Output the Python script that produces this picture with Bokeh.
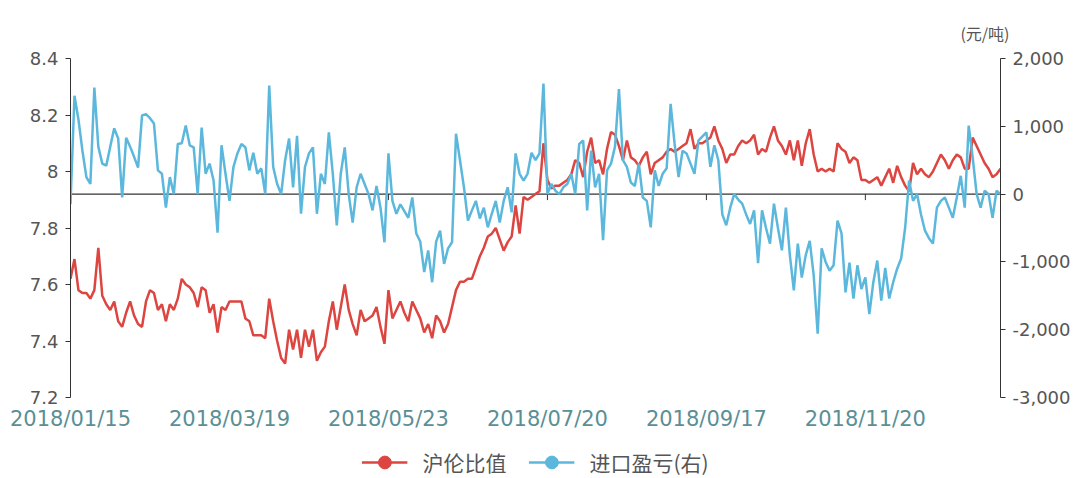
from bokeh.plotting import figure
from bokeh.layouts import column
from bokeh.models import (Range1d, LinearAxis, FixedTicker, Span, Legend, LegendItem,
                          Title, ColumnDataSource)
from bokeh.embed import file_html
from bokeh.resources import INLINE

# ---------------- data ----------------
ratio = [
    7.62, 7.69, 7.58, 7.57, 7.57, 7.55, 7.58, 7.73, 7.56, 7.53,
    7.51, 7.54, 7.47, 7.45, 7.50, 7.54, 7.49, 7.46, 7.45, 7.54,
    7.58, 7.57, 7.51, 7.53, 7.47, 7.53, 7.51, 7.55, 7.62, 7.60,
    7.59, 7.57, 7.52, 7.59, 7.58, 7.50, 7.53, 7.43, 7.52, 7.51,
    7.54, 7.54, 7.54, 7.54, 7.48, 7.47, 7.42, 7.42, 7.42, 7.41,
    7.55, 7.47, 7.40, 7.34, 7.32, 7.44, 7.37, 7.44, 7.34, 7.44,
    7.38, 7.44, 7.33, 7.36, 7.38, 7.47, 7.54, 7.44, 7.52, 7.60,
    7.51, 7.46, 7.42, 7.51, 7.47, 7.48, 7.49, 7.52, 7.45, 7.39,
    7.58, 7.48, 7.51, 7.54, 7.50, 7.47, 7.54, 7.51, 7.48, 7.43,
    7.46, 7.41, 7.49, 7.47, 7.43, 7.46, 7.52, 7.58, 7.61, 7.61,
    7.62, 7.62, 7.66, 7.70, 7.73, 7.77, 7.78, 7.80, 7.76, 7.72,
    7.75, 7.77, 7.88, 7.78, 7.91, 7.90, 7.91, 7.92, 7.93, 8.10,
    7.97, 7.94, 7.95, 7.95, 7.96, 7.97, 7.99, 8.04, 8.03, 7.98,
    8.07, 8.12, 8.03, 8.04, 7.99, 8.08, 8.14, 8.13, 8.09, 8.04,
    8.11, 8.05, 8.04, 8.02, 8.05, 8.07, 7.99, 8.03, 8.04, 8.05,
    8.07, 8.08, 8.07, 8.08, 8.09, 8.10, 8.15, 8.08, 8.10, 8.10,
    8.11, 8.12, 8.16, 8.11, 8.08, 8.03, 8.06, 8.06, 8.09, 8.11,
    8.10, 8.11, 8.13, 8.06, 8.08, 8.07, 8.12, 8.16, 8.11, 8.09,
    8.06, 8.11, 8.04, 8.11, 8.02, 8.10, 8.15, 8.06, 8.00, 8.01,
    8.00, 8.01, 8.00, 8.10, 8.08, 8.07, 8.03, 8.05, 8.04, 7.97,
    7.97, 7.96, 7.97, 7.98, 7.95, 7.98, 8.01, 7.96, 8.02, 7.98,
    7.95, 7.93, 8.03, 7.99, 8.01, 7.99, 7.98, 8.00, 8.03, 8.06,
    8.04, 8.01, 8.04, 8.06, 8.05, 8.01, 8.01, 8.12, 8.09, 8.06,
    8.03, 8.01, 7.98, 7.99, 8.01,
]

profit = [
    -150, 1450, 1100, 640, 250, 150, 1570, 700, 450, 420,
    700, 970, 820, -50, 830, 700, 550, 390, 1160, 1180,
    1120, 1040, 350, 300, -200, 250, 0, 740, 750, 1010,
    720, 690, 0, 980, 300, 450, 200, -570, 720, 300,
    -100, 400, 600, 740, 690, 350, 610, 300, 380, 0,
    1600, 400, 150, 0, 500, 820, 100, 860, -290, 400,
    600, 690, -290, 300, 150, 910, 300, -460, 300, 690,
    0, -420, 100, 300, 150, 0, -240, 120, -200, -710,
    600, -100, -290, -150, -250, -350, -50, -580, -700, -1150,
    -830, -1300, -700, -540, -1030, -800, -710, 890, 500, 100,
    -390, -240, -100, -360, -200, -490, -290, -100, -420, -100,
    100, -270, 600, 300, 200, 300, 610, 500, 600, 1630,
    0, 150, 50, 0, 100, 150, 300, 0, 740, 790,
    -240, 640, 100, 300, -680, 350, 450, 700, 1550, 500,
    400, 170, 120, 450, -50, -100, -490, 350, 120, 300,
    380, 1330, 740, 250, 640, 600, 450, 300, 790, 850,
    910, 400, 720, 500, -300, -460, -200, 0, -80, -140,
    -300, -440, -240, -1020, -240, -500, -730, -140, -500, -830,
    -200, -900, -1420, -730, -1230, -900, -690, -1200, -2060, -800,
    -1000, -1130, -1050, -390, -580, -1450, -1010, -1540, -1050, -1400,
    -1230, -1770, -1300, -980, -1570, -1090, -1540, -1300, -1100, -950,
    -500, 200, -100, 0, -300, -540, -650, -730, -200, -100,
    -50, -200, -350, -50, 270, -200, 1010, 540, 0, -200,
    50, 0, -350, 50, 0,
]

x_tick_index = [0, 40, 80, 120, 160, 200]
x_tick_labels = ["2018/01/15", "2018/03/19", "2018/05/23",
                 "2018/07/20", "2018/09/17", "2018/11/20"]
left_ticks = [7.2, 7.4, 7.6, 7.8, 8.0, 8.2, 8.4]
left_tick_labels = ["7.2", "7.4", "7.6", "7.8", "8", "8.2", "8.4"]
right_ticks = [-3000, -2000, -1000, 0, 1000, 2000]
right_tick_labels = ["-3,000", "-2,000", "-1,000", "0", "1,000", "2,000"]
series_names = ["沪伦比值", "进口盈亏(右)"]
unit_label = "(元/吨)"

# ---------------- style ----------------
RED = "#dc4540"
BLUE = "#5bb8dc"
AXIS = "#333333"
TEXT = "#555555"
XTEXT = "#5a8f96"
NUM_FONT = "DejaVu Sans"
CJK_FONT = "Noto Sans CJK SC"
W = 1085
MAIN_H = 440
LEG_H = 38

n = min(len(ratio), len(profit))
src = ColumnDataSource(dict(x=list(range(n)), ratio=ratio[:n], profit=profit[:n]))

LMIN, LMAX = left_ticks[0], left_ticks[-1]
RMIN, RMAX = right_ticks[0], right_ticks[-1]
FRAME_H = 339

p = figure(width=W, height=MAIN_H, output_backend="svg", toolbar_location=None,
           x_range=Range1d(0, n - 1), y_range=Range1d(LMIN, LMAX),
           min_border_left=70, min_border_right=85, min_border_top=58,
           min_border_bottom=MAIN_H - 58 - FRAME_H)
p.outline_line_color = None
p.grid.visible = False
p.background_fill_color = "white"
p.extra_y_ranges = {"right": Range1d(RMIN, RMAX)}

# left axis
ya = p.yaxis[0]
ya.ticker = FixedTicker(ticks=left_ticks)
ya.major_label_overrides = dict(zip(left_ticks, left_tick_labels))
ya.axis_line_color = AXIS
ya.major_tick_line_color = AXIS
ya.major_tick_out = 5
ya.major_tick_in = 0
ya.minor_tick_line_color = None
ya.major_label_standoff = 7
ya.major_label_text_font = NUM_FONT
ya.major_label_text_font_size = "18px"
ya.major_label_text_color = TEXT

# right axis
yr = LinearAxis(y_range_name="right", ticker=FixedTicker(ticks=right_ticks))
yr.major_label_overrides = dict(zip(right_ticks, right_tick_labels))
yr.axis_line_color = AXIS
yr.major_tick_line_color = AXIS
yr.major_tick_out = 5
yr.major_tick_in = 0
yr.minor_tick_line_color = None
yr.major_label_standoff = 7
yr.major_label_text_font = NUM_FONT
yr.major_label_text_font_size = "18px"
yr.major_label_text_color = TEXT
p.add_layout(yr, "right")

# bottom axis (labels only)
xa = p.xaxis[0]
xa.ticker = FixedTicker(ticks=x_tick_index)
xa.major_label_overrides = dict(zip(x_tick_index, x_tick_labels))
xa.axis_line_color = None
xa.major_tick_line_color = None
xa.minor_tick_line_color = None
xa.major_tick_out = 0
xa.major_tick_in = 0
xa.major_label_standoff = 9
xa.major_label_text_font = NUM_FONT
xa.major_label_text_font_size = "21px"
xa.major_label_text_color = XTEXT

# zero line of the right axis, with category ticks
zero_left = LMIN + (0 - RMIN) / (RMAX - RMIN) * (LMAX - LMIN)
p.add_layout(Span(location=zero_left, dimension="width", line_color=AXIS,
                  line_width=1.2, level="underlay"))
tick_len = (LMAX - LMIN) / FRAME_H * 6
p.segment(x0=x_tick_index, x1=x_tick_index,
          y0=[zero_left] * len(x_tick_index),
          y1=[zero_left - tick_len] * len(x_tick_index),
          line_color=AXIS, line_width=1)

# series
p.line("x", "ratio", source=src, line_color=RED, line_width=2.5)
p.line("x", "profit", source=src, y_range_name="right",
       line_color=BLUE, line_width=2.5)

p.add_layout(Title(text=unit_label, align="right", offset=-9, standoff=28,
                   text_font=CJK_FONT, text_font_size="16px",
                   text_font_style="normal", text_color=TEXT), "above")

# ---------------- legend strip ----------------
nan = float("nan")
lg = figure(width=W, height=LEG_H, output_backend="svg", toolbar_location=None,
            x_range=Range1d(0, 1), y_range=Range1d(0, 1),
            x_axis_type=None, y_axis_type=None,
            min_border_left=70, min_border_right=85, min_border_top=0,
            min_border_bottom=0)
lg.outline_line_color = None
lg.grid.visible = False
items = []
for name, col in zip(series_names, [RED, BLUE]):
    ln = lg.line(x=[nan], y=[nan], line_color=col, line_width=2.5)
    mk = lg.scatter(x=[nan], y=[nan], marker="circle", size=12,
                    fill_color=col, line_color=col)
    items.append(LegendItem(label=name, renderers=[ln, mk]))

legend = Legend(items=items, orientation="horizontal", location="bottom_center",
                glyph_width=46, glyph_height=32, label_standoff=15, spacing=22,
                padding=0, margin=0, border_line_color=None,
                background_fill_alpha=0,
                label_text_font=CJK_FONT, label_text_font_size="21px",
                label_text_color=TEXT)
lg.add_layout(legend, "center")

layout = column(p, lg, spacing=0)
open("out.html", "w").write(file_html(layout, INLINE))
